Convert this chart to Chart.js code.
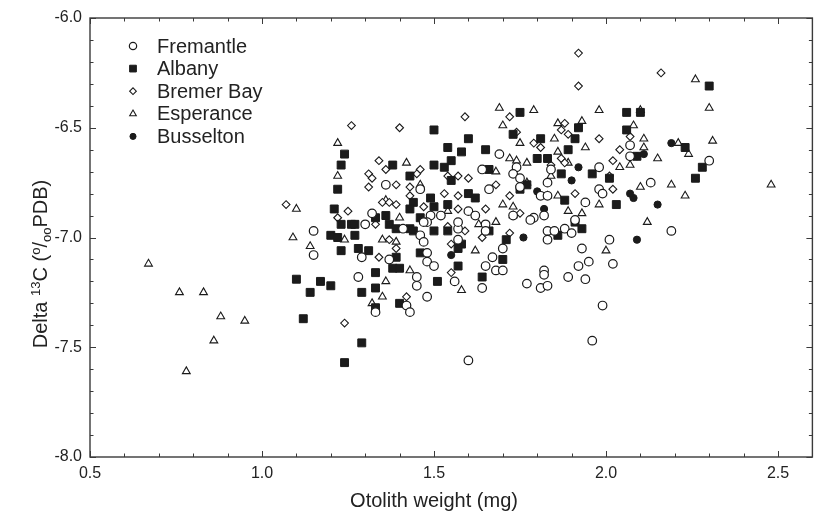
<!DOCTYPE html>
<html>
<head>
<meta charset="utf-8">
<title>Delta 13C vs otolith weight</title>
<script src="https://cdn.jsdelivr.net/npm/chart.js@4.4.1/dist/chart.umd.min.js"></script>
<style>
html, body { margin: 0; padding: 0; background: #fff; }
canvas { display: block; }
</style>
</head>
<body>
<canvas id="chart" width="819" height="514"></canvas>
<script>
// values: [otolith weight (mg), delta 13C]
const fremantle = [
    [1.36,-6.76],[1.46,-6.78],[1.32,-6.89],[1.49,-6.90],[1.30,-6.94],[1.15,-6.97],[1.41,-6.96],[1.48,-6.93],
    [1.46,-6.99],[1.47,-7.02],[1.15,-7.08],[1.29,-7.09],[1.37,-7.10],[1.48,-7.07],[1.48,-7.11],[1.50,-7.13],
    [1.28,-7.18],[1.45,-7.18],[1.45,-7.22],[1.48,-7.27],[1.42,-7.31],[1.43,-7.34],[1.33,-7.34],[1.69,-6.62],
    [1.98,-6.68],[1.64,-6.69],[1.74,-6.68],[1.84,-6.69],[1.83,-6.75],[1.66,-6.78],[1.81,-6.81],[1.83,-6.81],
    [1.94,-6.84],[1.60,-6.88],[1.73,-6.90],[1.79,-6.91],[1.82,-6.90],[1.98,-6.78],[1.99,-6.80],[1.73,-6.71],
    [1.75,-6.73],[1.62,-6.90],[1.91,-6.92],[1.57,-6.96],[1.57,-7.01],[1.70,-7.05],[1.67,-7.09],[1.65,-7.13],
    [1.68,-7.15],[1.70,-7.15],[1.56,-7.20],[1.64,-7.23],[1.77,-7.21],[1.82,-7.15],[1.82,-7.17],[1.81,-7.23],
    [1.83,-7.22],[1.83,-6.97],[1.85,-6.97],[1.88,-6.96],[1.90,-6.98],[2.01,-7.01],[2.02,-7.12],[1.93,-7.05],
    [1.95,-7.11],[1.92,-7.13],[1.89,-7.18],[1.94,-7.19],[1.99,-7.31],[1.96,-7.47],[1.60,-7.56],[2.07,-6.58],
    [2.30,-6.65],[2.07,-6.63],[2.13,-6.75],[2.19,-6.97],[1.78,-6.92],[1.52,-6.90],[1.47,-6.93],[1.57,-6.93],
    [1.65,-6.94],[1.65,-6.97],[1.83,-7.01],[1.75,-6.77]
];
const albany = [
    [1.50,-6.51],[1.24,-6.62],[1.38,-6.67],[1.50,-6.67],[1.23,-6.67],[1.43,-6.72],[1.22,-6.78],[1.49,-6.82],
    [1.44,-6.84],[1.43,-6.87],[1.50,-6.86],[1.21,-6.87],[1.33,-6.91],[1.36,-6.90],[1.46,-6.91],[1.23,-6.94],
    [1.26,-6.94],[1.27,-6.94],[1.37,-6.94],[1.39,-6.96],[1.43,-6.96],[1.44,-6.97],[1.50,-6.97],[1.20,-6.99],
    [1.22,-7.00],[1.27,-6.99],[1.23,-7.06],[1.28,-7.05],[1.31,-7.06],[1.39,-7.09],[1.38,-7.14],[1.40,-7.14],
    [1.46,-7.07],[1.10,-7.19],[1.17,-7.20],[1.20,-7.22],[1.14,-7.25],[1.33,-7.16],[1.33,-7.23],[1.29,-7.25],
    [1.51,-7.20],[1.40,-7.30],[1.33,-7.32],[1.12,-7.37],[1.29,-7.48],[1.24,-7.57],[1.75,-6.43],[2.06,-6.43],
    [1.92,-6.50],[1.73,-6.53],[2.06,-6.51],[1.60,-6.55],[1.81,-6.55],[1.91,-6.55],[1.89,-6.60],[1.54,-6.59],
    [1.58,-6.61],[1.65,-6.60],[1.55,-6.65],[1.80,-6.64],[1.83,-6.64],[1.53,-6.68],[1.66,-6.69],[1.87,-6.71],
    [1.96,-6.71],[2.01,-6.73],[1.55,-6.74],[1.75,-6.78],[1.77,-6.76],[1.60,-6.80],[1.62,-6.82],[1.88,-6.83],
    [2.03,-6.85],[1.54,-6.85],[1.91,-6.93],[1.54,-6.97],[1.58,-7.03],[1.57,-7.05],[1.66,-6.97],[1.71,-7.01],
    [1.70,-7.10],[1.57,-7.13],[1.64,-7.18],[1.86,-6.99],[1.93,-6.96],[2.30,-6.31],[2.10,-6.43],[2.23,-6.59],
    [2.09,-6.63],[2.28,-6.68],[2.26,-6.73]
];
const bremerBay = [
    [1.26,-6.49],[1.40,-6.50],[1.34,-6.65],[1.36,-6.69],[1.46,-6.69],[1.45,-6.71],[1.31,-6.71],[1.32,-6.73],
    [1.39,-6.76],[1.31,-6.77],[1.43,-6.77],[1.43,-6.81],[1.07,-6.85],[1.35,-6.84],[1.37,-6.84],[1.39,-6.85],
    [1.47,-6.86],[1.25,-6.88],[1.22,-6.91],[1.33,-6.94],[1.52,-6.90],[1.37,-7.01],[1.39,-7.05],[1.34,-7.09],
    [1.42,-7.27],[1.24,-7.39],[1.72,-6.45],[1.59,-6.45],[1.88,-6.48],[1.87,-6.51],[1.89,-6.53],[1.74,-6.52],
    [1.79,-6.57],[1.81,-6.59],[1.98,-6.55],[2.04,-6.60],[1.87,-6.64],[1.84,-6.67],[1.88,-6.66],[2.02,-6.65],
    [1.54,-6.72],[1.57,-6.72],[1.60,-6.73],[2.01,-6.72],[1.68,-6.76],[1.72,-6.81],[1.53,-6.80],[1.57,-6.81],
    [1.91,-6.80],[2.02,-6.78],[1.57,-6.87],[1.65,-6.87],[1.55,-7.03],[1.64,-7.00],[1.72,-6.98],[1.83,-7.01],
    [1.55,-7.16],[1.59,-6.97],[2.16,-6.25],[2.07,-6.54],[1.92,-6.16],[1.92,-6.31],[1.75,-6.89],[1.54,-6.95]
];
const esperance = [
    [0.67,-7.12],[0.76,-7.25],[0.83,-7.25],[0.88,-7.36],[0.95,-7.38],[0.86,-7.47],[0.78,-7.61],[1.22,-6.57],
    [1.42,-6.66],[1.22,-6.72],[1.46,-6.76],[1.10,-6.87],[1.36,-6.83],[1.40,-6.91],[1.09,-7.00],[1.24,-7.01],
    [1.35,-7.01],[1.39,-7.02],[1.14,-7.04],[1.36,-7.20],[1.35,-7.27],[1.43,-7.15],[1.32,-7.30],[1.69,-6.41],
    [1.79,-6.42],[1.98,-6.42],[1.70,-6.49],[1.86,-6.48],[1.93,-6.47],[1.85,-6.55],[1.75,-6.57],[1.94,-6.59],
    [1.86,-6.61],[1.72,-6.64],[1.74,-6.65],[1.77,-6.66],[1.89,-6.66],[2.04,-6.68],[1.68,-6.70],[1.84,-6.72],
    [1.86,-6.81],[1.98,-6.85],[1.70,-6.85],[1.73,-6.86],[1.89,-6.88],[1.93,-6.89],[1.62,-7.06],[1.58,-7.24],
    [2.00,-7.06],[2.26,-6.28],[2.30,-6.41],[2.10,-6.42],[2.08,-6.49],[2.11,-6.55],[2.11,-6.59],[2.21,-6.57],
    [2.31,-6.56],[2.24,-6.62],[2.15,-6.64],[2.07,-6.67],[2.19,-6.76],[2.48,-6.76],[2.10,-6.77],[2.23,-6.81],
    [2.12,-6.93],[1.77,-6.75],[1.83,-6.81],[1.73,-6.90],[1.54,-6.88],[1.63,-6.94],[1.68,-6.93]
];
const busselton = [
    [1.92,-6.68],[1.90,-6.74],[1.80,-6.79],[1.82,-6.87],[1.55,-7.08],[1.76,-7.00],[2.19,-6.57],[2.09,-6.63],
    [2.11,-6.62],[2.08,-6.82],[2.07,-6.80],[2.15,-6.85],[2.09,-7.01]
];

const siteNames = ['Fremantle', 'Albany', 'Bremer Bay', 'Esperance', 'Busselton'];
const xTickLabels = ['0.5', '1.0', '1.5', '2.0', '2.5'];
const yTickLabels = ['-8.0', '-7.5', '-7.0', '-6.5', '-6.0'];
const xTitle = 'Otolith weight (mg)';
// y title pieces: text + 1 superscript / -1 subscript
const yTitleParts = [['Delta ', 0], ['13', 1], ['C (', 0], ['o', 1], ['/', 0], ['oo', -1], ['PDB)', 0]];

const ink = '#1b1b1b';
const fontFamily = "'Liberation Sans', Arial, Helvetica, sans-serif";

const markers = [
    { pointStyle: 'circle', radius: 4.3, fill: '#fff', bw: 1.2 },
    { pointStyle: 'rect', radius: 5.6, fill: ink, bw: 1 },
    { pointStyle: 'rectRot', radius: 3.9, fill: '#fff', bw: 1.1 },
    { pointStyle: 'triangle', radius: 4.5, fill: '#fff', bw: 1.1 },
    { pointStyle: 'circle', radius: 3.6, fill: ink, bw: 1 }
];

const seriesData = [fremantle, albany, bremerBay, esperance, busselton];

const datasets = seriesData.map((pts, i) => ({
    label: siteNames[i],
    data: pts.map(([x, y]) => ({ x, y })),
    pointStyle: markers[i].pointStyle,
    pointRadius: markers[i].radius,
    pointHoverRadius: markers[i].radius,
    pointBackgroundColor: markers[i].fill,
    pointBorderColor: ink,
    pointBorderWidth: markers[i].bw,
    showLine: false
}));

// frame with inward ticks on all four sides
const frameTicks = {
    id: 'frameTicks',
    beforeDatasetsDraw(chart) {
        const { ctx, chartArea: a, scales: { x, y } } = chart;
        ctx.save();
        ctx.strokeStyle = '#3a3a3a';
        ctx.lineWidth = 1.4;
        ctx.strokeRect(a.left, a.top, a.right - a.left, a.bottom - a.top);
        ctx.lineWidth = 1;
        ctx.beginPath();
        for (let k = 5; k <= 26; k++) {
            const px = Math.round(x.getPixelForValue(k / 10)) + 0.5;
            const len = k % 5 === 0 ? 6 : 3.5;
            ctx.moveTo(px, a.bottom); ctx.lineTo(px, a.bottom - len);
            ctx.moveTo(px, a.top); ctx.lineTo(px, a.top + len);
        }
        for (let k = -80; k <= -60; k++) {
            const py = Math.round(y.getPixelForValue(k / 10)) + 0.5;
            const len = k % 5 === 0 ? 6 : 3.5;
            ctx.moveTo(a.left, py); ctx.lineTo(a.left + len, py);
            ctx.moveTo(a.right, py); ctx.lineTo(a.right - len, py);
        }
        ctx.stroke();
        ctx.restore();
    }
};

// legend inside the plot, top left, one site per row
const insideLegend = {
    id: 'insideLegend',
    afterDraw(chart) {
        const ctx = chart.ctx;
        ctx.save();
        ctx.font = '20px ' + fontFamily;
        ctx.textBaseline = 'middle';
        siteNames.forEach((name, i) => {
            const cy = 46 + i * 22.6;
            const m = markers[i];
            ctx.fillStyle = m.fill;
            ctx.strokeStyle = ink;
            ctx.lineWidth = m.bw;
            Chart.helpers.drawPoint(ctx, { pointStyle: m.pointStyle, radius: m.radius * 0.85, rotation: 0, borderWidth: m.bw }, 133, cy);
            ctx.fillStyle = '#222';
            ctx.fillText(name, 157, cy + 1);
        });
        ctx.restore();
    }
};

// axis titles: x title sits a little left of centre, y title has super/subscripts
const axisTitles = {
    id: 'axisTitles',
    afterDraw(chart) {
        const ctx = chart.ctx;
        ctx.save();
        ctx.fillStyle = '#222';
        ctx.font = '20px ' + fontFamily;
        ctx.textAlign = 'center';
        ctx.textBaseline = 'middle';
        ctx.fillText(xTitle, chart.scales.x.getPixelForValue(1.5), 501);

        const big = '20px ' + fontFamily, small = '13px ' + fontFamily;
        ctx.textAlign = 'left';
        ctx.textBaseline = 'alphabetic';
        let total = 0;
        yTitleParts.forEach(([t, s]) => { ctx.font = s ? small : big; total += ctx.measureText(t).width; });
        ctx.translate(40, 264);
        ctx.rotate(-Math.PI / 2);
        let cx = -total / 2;
        yTitleParts.forEach(([t, s]) => {
            ctx.font = s ? small : big;
            const dy = s === 1 ? -7 : s === -1 ? 4 : 0;
            ctx.fillText(t, cx, 7 + dy);
            cx += ctx.measureText(t).width;
        });
        ctx.restore();
    }
};

new Chart(document.getElementById('chart'), {
    type: 'scatter',
    data: { datasets },
    options: {
        responsive: false,
        animation: false,
        layout: { padding: { top: 18, right: 2, left: 0, bottom: 0 } },
        plugins: { legend: { display: false }, tooltip: { enabled: false } },
        scales: {
            x: {
                type: 'linear', min: 0.5, max: 2.6,
                grid: { display: false, drawTicks: false },
                border: { display: false },
                ticks: {
                    stepSize: 0.5, includeBounds: false, padding: 7, color: '#222',
                    font: { family: fontFamily, size: 16 },
                    callback: v => xTickLabels[Math.round((v - 0.5) / 0.5)]
                },
                afterFit: s => { s.height = 57; }
            },
            y: {
                type: 'linear', min: -8, max: -6,
                grid: { display: false, drawTicks: false },
                border: { display: false },
                ticks: {
                    stepSize: 0.5, padding: 8, color: '#222',
                    font: { family: fontFamily, size: 16 },
                    callback: v => yTickLabels[Math.round((v + 8) / 0.5)]
                },
                afterFit: s => { s.width = 90; }
            }
        }
    },
    plugins: [frameTicks, insideLegend, axisTitles]
});
</script>
</body>
</html>
